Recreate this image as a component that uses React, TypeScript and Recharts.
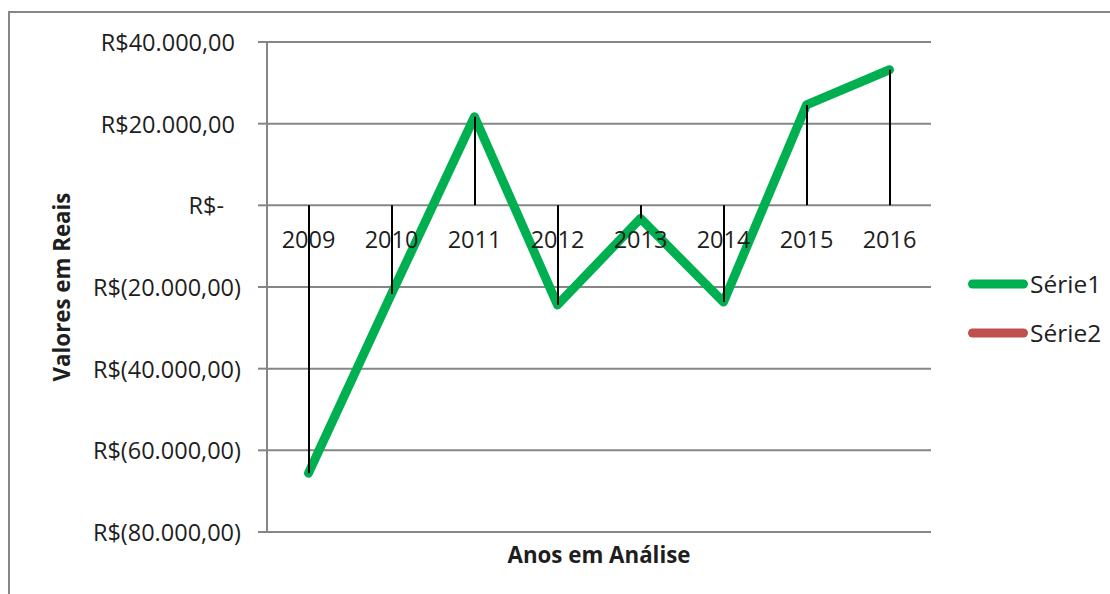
import React from 'react';
import { ComposedChart, Line, Bar, XAxis, YAxis, CartesianGrid, Legend, Label } from 'recharts';

const years = ['2009', '2010', '2011', '2012', '2013', '2014', '2015', '2016'];
const serie1 = [-65600, -21700, 21700, -24400, -3200, -23700, 24600, 33200];
const serie2: (number | null)[] = [null, null, null, null, null, null, null, null];
const yTicks = [-80000, -60000, -40000, -20000, 0, 20000, 40000];

const data = years.map((year, i) => ({ year, s1: serie1[i], s2: serie2[i] }));

const FONT = "'Open Sans', 'DejaVu Sans', sans-serif";
const GRID = '#868686';
const TEXT = '#1e1e1e';

const groupBR = (n: number) =>
  String(Math.round(n)).replace(/\B(?=(\d{3})+(?!\d))/g, '.') + ',00';

const fmtMoney = (v: number) => {
  if (v === 0) return 'R$-';
  if (v < 0) return 'R$(' + groupBR(-v) + ')';
  return 'R$' + groupBR(v);
};

const YTick = (props: any) => {
  const { x, y, payload } = props;
  const v = payload.value as number;
  const dx = v < 0 ? 6 : v === 0 ? -11 : 0;
  return (
    <text x={x + dx} y={y} textAnchor="end" dominantBaseline="central" fontFamily={FONT} fontSize={23.5} fill={TEXT}>
      {fmtMoney(v)}
    </text>
  );
};

const XTick = (props: any) => {
  const { x, y, payload } = props;
  return (
    <text x={x} y={y - 284} textAnchor="middle" fontFamily={FONT} fontSize={23.5} fill={TEXT}>
      {payload.value}
    </text>
  );
};

const LegendContent = (p: any) => (
  <div style={{ fontFamily: FONT }}>
    {(p.payload || [])
      .filter((e: any) => e.type !== 'none' && e.value !== 's1')
      .map((e: any) => (
        <div key={e.value} style={{ display: 'flex', alignItems: 'center', height: 49 }}>
          <svg width={60} height={12} style={{ display: 'block' }}>
            <line x1={4.5} y1={6} x2={55.5} y2={6} stroke={e.color} strokeWidth={9} strokeLinecap="round" />
          </svg>
          <span style={{ fontSize: 24.5, color: TEXT, marginLeft: 2, lineHeight: '26px' }}>{e.value}</span>
        </div>
      ))}
  </div>
);

export default function App() {
  return (
    <div style={{ position: 'absolute', left: 0, top: 0, width: 1110, height: 594, overflow: 'hidden', background: '#fff', fontFamily: FONT }}>
      <div style={{ position: 'absolute', left: 8, top: 11, width: 1300, height: 800, borderTop: `2px solid ${GRID}`, borderLeft: `2px solid ${GRID}` }} />
      <div style={{ position: 'absolute', left: 0, top: 0 }}>
        <ComposedChart width={1110} height={594} data={data} margin={{ top: 42, right: 179, bottom: 32, left: 0 }}>
          <CartesianGrid horizontal vertical={false} stroke={GRID} strokeWidth={2} />
          <XAxis
            dataKey="year"
            height={30}
            axisLine={false}
            tickLine={false}
            tickSize={0}
            tickMargin={0}
            tick={<XTick />}
            interval={0}
          >
            <Label
              content={(lp: any) => {
                const vb = lp.viewBox;
                return (
                  <text x={vb.x + vb.width / 2} y={vb.y + 22} textAnchor="middle" dominantBaseline="central" fontFamily={FONT} fontWeight={700} fontSize={22.3} fill={TEXT}>
                    Anos em Análise
                  </text>
                );
              }}
            />
          </XAxis>
          <YAxis
            type="number"
            domain={[-80000, 40000]}
            ticks={yTicks}
            width={267}
            interval={0}
            tickSize={9}
            tickMargin={23}
            axisLine={{ stroke: GRID, strokeWidth: 2 }}
            tickLine={{ stroke: GRID, strokeWidth: 2 }}
            tick={<YTick />}
          >
            <Label
              content={(lp: any) => {
                const vb = lp.viewBox;
                const cx = 61;
                const cy = vb.y + vb.height / 2;
                return (
                  <text x={cx} y={cy} transform={`rotate(-90, ${cx}, ${cy})`} textAnchor="middle" dominantBaseline="central" fontFamily={FONT} fontWeight={700} fontSize={22.3} fill={TEXT}>
                    Valores em Reais
                  </text>
                );
              }}
            />
          </YAxis>
          <Line
            dataKey="s1"
            name="Série1"
            stroke="#00B050"
            strokeWidth={9}
            strokeLinejoin="round"
            strokeLinecap="round"
            dot={false}
            activeDot={false}
            isAnimationActive={false}
          />
          <Line
            dataKey="s2"
            name="Série2"
            stroke="#C0504D"
            strokeWidth={9}
            dot={false}
            activeDot={false}
            isAnimationActive={false}
          />
          <Bar
            dataKey="s1"
            barSize={2}
            fill="#000"
            legendType="none"
            isAnimationActive={false}
            {...({ zIndex: 450 } as any)}
          />
          <Legend
            layout="vertical"
            align="center"
            verticalAlign="middle"
            content={<LegendContent />}
            wrapperStyle={{ left: 968, top: 259, width: 142 }}
          />
        </ComposedChart>
      </div>
    </div>
  );
}
